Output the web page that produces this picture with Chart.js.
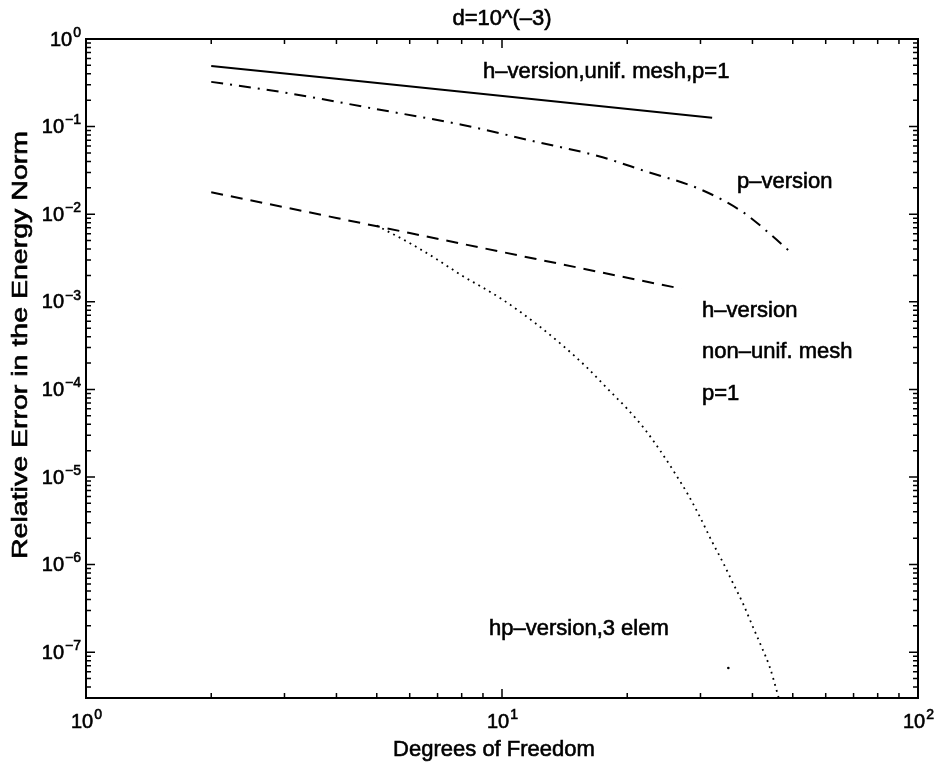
<!DOCTYPE html>
<html lang="en">

<head>
    <meta charset="UTF-8">
    <title>d=10^(-3)</title>
    <script src="https://cdn.jsdelivr.net/npm/chart.js"></script>
    <style>
        body { margin: 0; background: #fff; }
        #wrap { width: 935px; height: 766px; position: relative; }
    </style>
</head>

<body>
    <div id="wrap"><canvas id="errChart"></canvas></div>

    <script>
        // values (degrees of freedom vs relative error)
        const hUnifDof = [2, 4, 8, 16, 32];
        const hUnifErr = [0.493, 0.351, 0.250, 0.178, 0.126];

        const pDof = [2, 3, 5, 8, 12, 17, 22, 30, 38, 44, 50];
        const pErr = [0.324, 0.245, 0.158, 0.105, 0.0675, 0.0462, 0.0312, 0.0192, 0.0105, 0.0060, 0.0035];

        const hNonDof = [2, 3, 4, 6, 8, 12, 16, 20, 27];
        const hNonErr = [0.0178, 0.0120, 0.00906, 0.0061, 0.0046, 0.0031, 0.00234, 0.00188, 0.00141];

        const hpDof = [5, 6, 7, 8, 9, 10, 12, 14, 16, 18, 20, 22, 24, 26, 28, 30, 32, 34, 36, 38, 40, 42, 44, 46, 48];
        const hpErr = [7.41e-3, 4.68e-3, 3.02e-3, 2.0e-3, 1.45e-3, 1.07e-3, 5.75e-4, 3.16e-4, 1.78e-4, 1.0e-4,
            6.0e-5, 3.55e-5, 2.0e-5, 1.12e-5, 6.3e-6, 3.4e-6, 1.82e-6, 1.05e-6, 6.0e-7, 3.55e-7,
            2.0e-7, 1.17e-7, 6.8e-8, 3.3e-8, 1.6e-8];

        const strayDof = [35];
        const strayErr = [6.6e-8];

        const xDecades = [0, 1, 2];
        const yDecades = [0, -1, -2, -3, -4, -5, -6, -7];

        const titleText = 'd=10^(\u20133)';
        const xTitle = 'Degrees of Freedom';
        const yTitle = 'Relative Error in the Energy Norm';
        const notes = [
            { text: 'h\u2013version,unif. mesh,p=1', x: 483, y: 78 },
            { text: 'p\u2013version', x: 737, y: 188 },
            { text: 'h\u2013version', x: 702, y: 317 },
            { text: 'non\u2013unif. mesh', x: 702, y: 358 },
            { text: 'p=1', x: 702, y: 400 },
            { text: 'hp\u2013version,3 elem', x: 489, y: 635 }
        ];

        function pts(xs, ys) {
            return xs.map((x, i) => ({ x: x, y: ys[i] }));
        }

        const FONT = '"Liberation Sans", Arial, Helvetica, sans-serif';

        // a scanned print: glyphs look a bit heavier than plain regular
        function ink(ctx, s, x, y) {
            ctx.fillText(s, x, y);
            ctx.strokeText(s, x, y);
        }

        function drawPow(ctx, exp, x, y, align) {
            const base = '10';
            const sup = exp < 0 ? '\u2212' + (-exp) : String(exp);
            ctx.font = '20px ' + FONT;
            const wb = ctx.measureText(base).width;
            ctx.font = '14px ' + FONT;
            const ws = ctx.measureText(sup).width;
            let left;
            if (align === 'right') left = x - wb - ws;
            else left = x - (wb + ws) / 2;
            ctx.textAlign = 'left';
            ctx.textBaseline = 'middle';
            ctx.font = '20px ' + FONT;
            ink(ctx, base, left, y);
            ctx.font = '14px ' + FONT;
            ink(ctx, sup, left + wb + 1, y - 7);
        }

        const framePlugin = {
            id: 'matlabFrame',
            afterDraw(chart) {
                const ctx = chart.ctx;
                const a = chart.chartArea;
                const xs = chart.scales.x;
                const ys = chart.scales.y;
                ctx.save();
                ctx.strokeStyle = '#000';
                ctx.fillStyle = '#000';

                // box
                ctx.lineWidth = 2;
                ctx.strokeRect(a.left, a.top, a.right - a.left, a.bottom - a.top);

                // ticks, pointing inwards on all four sides
                ctx.lineWidth = 1.5;
                ctx.beginPath();
                for (let d = 0; d < 2; d++) {
                    for (let m = 1; m <= 9; m++) {
                        const v = m * Math.pow(10, d);
                        if (v <= 1 || v >= 100) continue;
                        const px = xs.getPixelForValue(v);
                        const len = m === 1 ? 9 : 5;
                        ctx.moveTo(px, a.bottom); ctx.lineTo(px, a.bottom - len);
                        ctx.moveTo(px, a.top); ctx.lineTo(px, a.top + len);
                    }
                }
                for (let d = -8; d < 0; d++) {
                    for (let m = 1; m <= 9; m++) {
                        const v = m * Math.pow(10, d);
                        if (v <= ys.min || v >= 1) continue;
                        const py = ys.getPixelForValue(v);
                        const len = m === 1 ? 9 : 5;
                        ctx.moveTo(a.left, py); ctx.lineTo(a.left + len, py);
                        ctx.moveTo(a.right, py); ctx.lineTo(a.right - len, py);
                    }
                }
                ctx.stroke();

                ctx.lineWidth = 0.6;
                // tick labels
                xDecades.forEach(e => {
                    drawPow(ctx, e, xs.getPixelForValue(Math.pow(10, e)), a.bottom + 24, 'center');
                });
                yDecades.forEach(e => {
                    drawPow(ctx, e, a.left - 6, ys.getPixelForValue(Math.pow(10, e)) + 1, 'right');
                });

                // titles
                ctx.font = '22px ' + FONT;
                ctx.textAlign = 'center';
                ctx.textBaseline = 'alphabetic';
                ink(ctx, titleText, (a.left + a.right) / 2, 25);
                ink(ctx, xTitle, 494, 756);
                ctx.save();
                ctx.translate(27, 345);
                ctx.rotate(-Math.PI / 2);
                const w = ctx.measureText(yTitle).width;
                ctx.scale(428 / w, 1);
                ink(ctx, yTitle, 0, 0);
                ctx.restore();

                // curve labels
                ctx.textAlign = 'left';
                notes.forEach(n => ink(ctx, n.text, n.x, n.y));
                ctx.restore();
            }
        };

        function generateGraph() {
            const ctx = document.getElementById('errChart').getContext('2d');
            const config = {
                type: 'line',
                data: {
                    datasets: [{
                        label: 'h-version, unif. mesh, p=1',
                        data: pts(hUnifDof, hUnifErr),
                        borderColor: '#000',
                        borderWidth: 2,
                        pointRadius: 0
                    }, {
                        label: 'p-version',
                        data: pts(pDof, pErr),
                        borderColor: '#000',
                        borderWidth: 2,
                        borderDash: [12, 7, 2, 7],
                        cubicInterpolationMode: 'monotone',
                        pointRadius: 0
                    }, {
                        label: 'h-version, non-unif. mesh, p=1',
                        data: pts(hNonDof, hNonErr),
                        borderColor: '#000',
                        borderWidth: 2,
                        borderDash: [12, 8],
                        pointRadius: 0
                    }, {
                        label: 'hp-version, 3 elem',
                        data: pts(hpDof, hpErr),
                        borderColor: '#000',
                        borderWidth: 1.8,
                        borderDash: [1.8, 4.4],
                        cubicInterpolationMode: 'monotone',
                        pointRadius: 0
                    }, {
                        label: 'stray',
                        data: pts(strayDof, strayErr),
                        showLine: false,
                        pointRadius: 1.3,
                        pointBorderWidth: 0,
                        pointBackgroundColor: '#000'
                    }]
                },
                options: {
                    responsive: true,
                    maintainAspectRatio: false,
                    animation: false,
                    layout: { padding: { left: 86, top: 39, right: 17, bottom: 68 } },
                    scales: {
                        x: { type: 'logarithmic', min: 1, max: 100, display: false },
                        y: { type: 'logarithmic', min: Math.pow(10, -7.5), max: 1, display: false }
                    },
                    plugins: {
                        legend: { display: false },
                        tooltip: { enabled: false }
                    }
                },
                plugins: [framePlugin]
            };
            new Chart(ctx, config);
        }

        document.addEventListener("DOMContentLoaded", () => {
            generateGraph();
        });
    </script>
</body>

</html>
